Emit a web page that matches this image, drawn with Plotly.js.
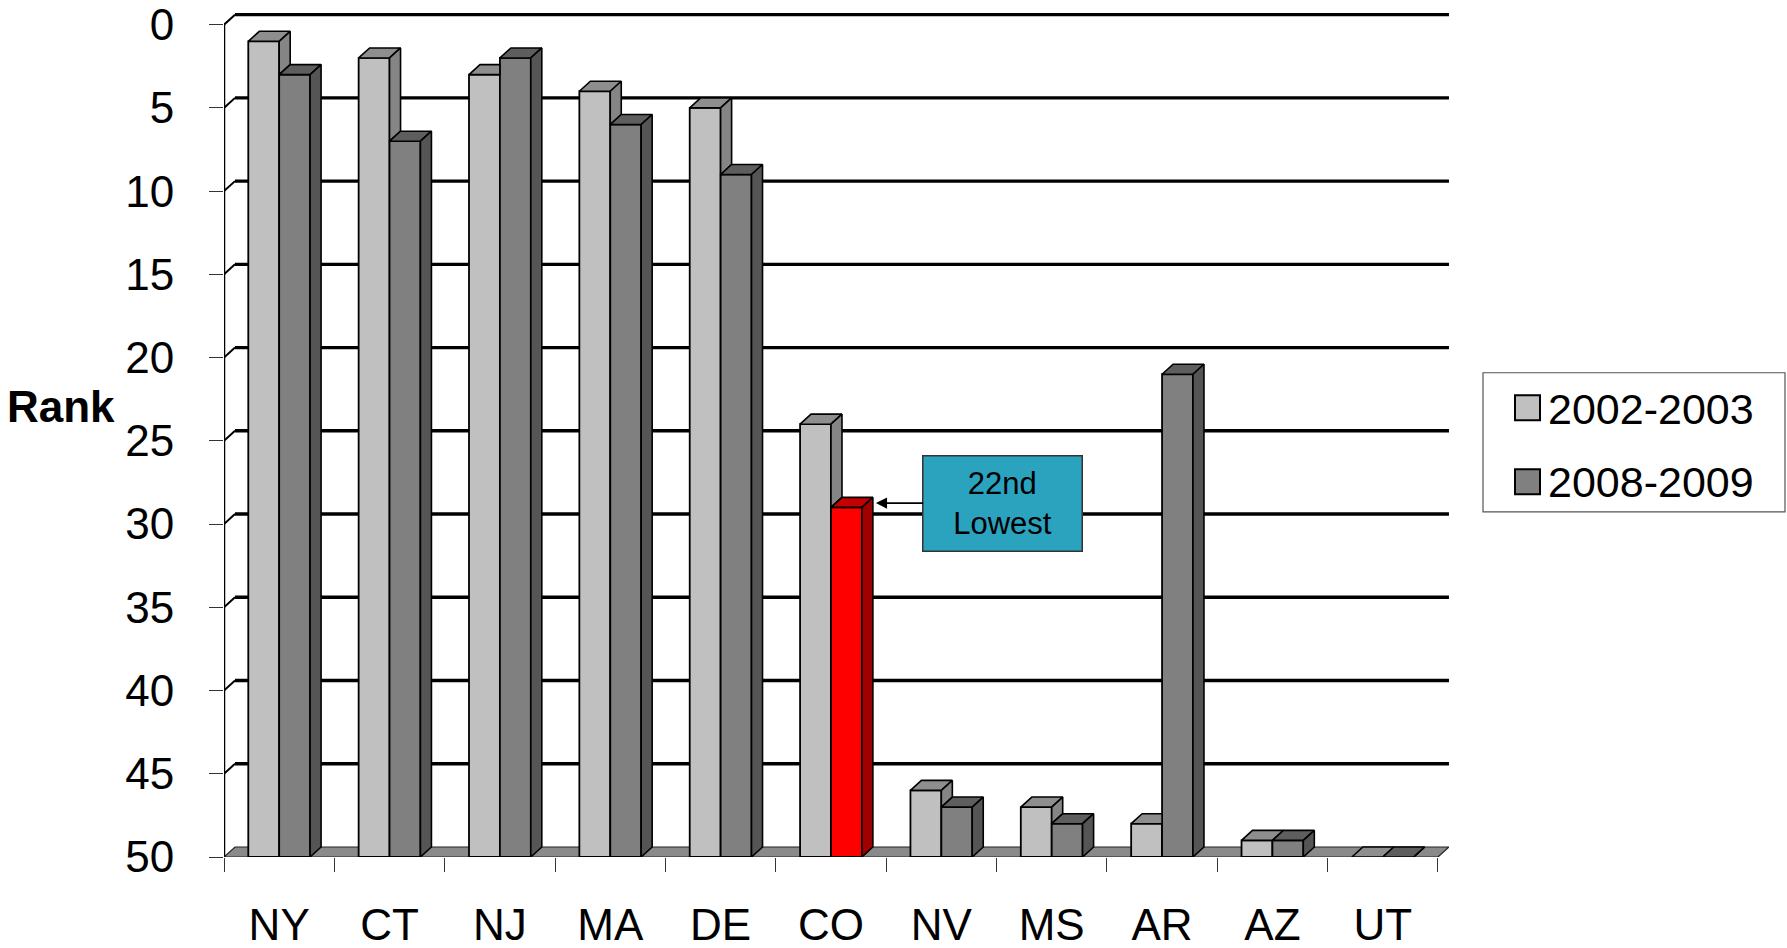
<!DOCTYPE html>
<html>
<head>
<meta charset="utf-8">
<script src="https://cdn.plot.ly/plotly-3.0.1.min.js"></script>
<style>html,body{margin:0;padding:0;background:#fff;}#chart{width:1787px;height:948px;}</style>
</head>
<body>
<div id="chart"></div>
<script>
// ---------- data ----------
const categories = ['NY', 'CT', 'NJ', 'MA', 'DE', 'CO', 'NV', 'MS', 'AR', 'AZ', 'UT'];
const rank2002 = [1, 2, 3, 4, 5, 24, 46, 47, 48, 49, 50];
const rank2008 = [3, 7, 2, 6, 9, 29, 47, 48, 21, 49, 50];
const seriesNames = ['2002-2003', '2008-2009'];
const highlightCategory = 'CO';
const yTickVals = [0, 5, 10, 15, 20, 25, 30, 35, 40, 45, 50];
const calloutText = '22nd<br>Lowest';
const axisTitle = 'Rank';

// ---------- geometry / style ----------
const W = 1787, H = 948;
const M = {l: 224, r: 338, t: 13.4, b: 91};
const XR = [-0.5, categories.length - 0.5 + 0.1];
const YR = [50, -0.7];
const BASE = 50;
const pxX = (W - M.l - M.r) / (XR[1] - XR[0]);
const pxY = (H - M.t - M.b) / (YR[0] - YR[1]);
const DX = 11 / pxX, DY = 10 / pxY;   // 3-D depth in data units
const BW = 0.28;                       // bar width (category units)
const FONT = 'Liberation Sans, Arial, sans-serif';
const C = {
  lightFront: '#c0c0c0', lightTop: '#8e8e8e', lightSide: '#858585',
  darkFront: '#808080', darkTop: '#5e5e5e', darkSide: '#555555',
  redFront: '#ff0000', redTop: '#c40000', redSide: '#a00000',
  floor: '#8a8a8a'
};
const idx = categories.map((_, i) => i);
const hi = categories.indexOf(highlightCategory);

// ---------- front faces (bars) ----------
const lightBar = {
  type: 'bar', name: seriesNames[0], x: idx, base: BASE,
  y: rank2002.map(v => v - BASE), offset: -BW, width: BW,
  marker: {color: C.lightFront, line: {color: '#000', width: 1.8}},
  showlegend: false, hoverinfo: 'skip'
};
const darkBar = {
  type: 'bar', name: seriesNames[1], x: idx, base: BASE,
  y: rank2008.map(v => v - BASE), offset: 0, width: BW,
  marker: {color: idx.map(i => i === hi ? C.redFront : C.darkFront), line: {color: '#000', width: 1.8}},
  showlegend: false, hoverinfo: 'skip'
};

// ---------- 3-D faces (polygons) ----------
function polyTrace(polys, fill) {
  const x = [], y = [];
  polys.forEach(p => {
    p.forEach(pt => { x.push(pt[0]); y.push(pt[1]); });
    x.push(p[0][0]); y.push(p[0][1]);
    x.push(null); y.push(null);
  });
  return {type: 'scatter', mode: 'lines', x, y, fill: 'toself', fillcolor: fill,
    line: {color: '#000', width: 1.6}, showlegend: false, hoverinfo: 'skip', connectgaps: false};
}
const lightTop = [], lightSide = [], darkTopG = [], darkTopR = [], darkSideG = [], darkSideR = [];
idx.forEach(i => {
  const rL = rank2002[i], rD = rank2008[i];
  const x0 = i - BW, x1 = i, x2 = i + BW;
  if (rD < rL) lightTop.push([[x0, rL], [x1, rL], [x1, rL - DY], [x0 + DX, rL - DY]]);
  else lightTop.push([[x0, rL], [x1, rL], [x1 + DX, rL - DY], [x0 + DX, rL - DY]]);
  if (rD > rL) lightSide.push([[x1, rL], [x1 + DX, rL - DY], [x1 + DX, rD - DY], [x1, rD]]);
  const top = [[x1, rD], [x2, rD], [x2 + DX, rD - DY], [x1 + DX, rD - DY]];
  const side = [[x2, rD], [x2 + DX, rD - DY], [x2 + DX, BASE - DY], [x2, BASE]];
  (i === hi ? darkTopR : darkTopG).push(top);
  (i === hi ? darkSideR : darkSideG).push(side);
});
const faceTraces = [
  polyTrace(lightTop, C.lightTop), polyTrace(lightSide, C.lightSide),
  polyTrace(darkTopG, C.darkTop), polyTrace(darkTopR, C.redTop),
  polyTrace(darkSideG, C.darkSide), polyTrace(darkSideR, C.redSide)
];

// ---------- legend entries ----------
const legendTraces = seriesNames.map((n, k) => ({
  type: 'bar', name: n, x: [null], y: [null], legendgroup: 'g' + k,
  marker: {color: 'rgba(0,0,0,0)', line: {width: 0}}, hoverinfo: 'skip'
}));

// ---------- walls, floor, gridlines ----------
const xL = -0.5, xR = categories.length - 0.5;
const shapes = [];
shapes.push({type: 'path', layer: 'below', xref: 'x', yref: 'y',
  path: `M${xL},${BASE} L${xR},${BASE} L${xR + DX},${BASE - DY} L${xL + DX},${BASE - DY} Z`,
  fillcolor: C.floor, line: {color: '#222', width: 1.2}});
yTickVals.filter(v => v < BASE).forEach(v => {
  shapes.push({type: 'line', layer: 'below', xref: 'x', yref: 'y',
    x0: xL + DX, x1: xR + DX, y0: v - DY, y1: v - DY, line: {color: '#000', width: 3.4}});
  shapes.push({type: 'line', layer: 'below', xref: 'x', yref: 'y',
    x0: xL, x1: xL + DX, y0: v, y1: v - DY, line: {color: '#000', width: 2}});
});
shapes.push({type: 'line', layer: 'above', xref: 'x', yref: 'y',
  x0: xL, x1: xL, y0: yTickVals[0], y1: BASE, line: {color: '#000', width: 2.5}});

// legend box and swatches (pixel -> paper)
const plotW = W - M.l - M.r, plotH = H - M.t - M.b;
const px2x = p => (p - M.l) / plotW, px2y = p => (H - M.b - p) / plotH;
shapes.push({type: 'rect', xref: 'paper', yref: 'paper', x0: px2x(1483), x1: px2x(1785),
  y0: px2y(512), y1: px2y(373), line: {color: '#555', width: 1.2}, fillcolor: 'rgba(0,0,0,0)'});
[[C.lightFront, 408], [C.darkFront, 482]].forEach(([col, cy]) => {
  shapes.push({type: 'rect', xref: 'paper', yref: 'paper', x0: px2x(1515), x1: px2x(1540),
    y0: px2y(cy + 12.5), y1: px2y(cy - 12.5), fillcolor: col, line: {color: '#000', width: 2}});
});

// ---------- annotations ----------
const annotations = [
  {xref: 'paper', yref: 'paper', x: px2x(61), y: px2y(407), xanchor: 'center', yanchor: 'middle',
   text: '<b>' + axisTitle + '</b>', showarrow: false, font: {family: FONT, size: 44, color: '#000'}},
  {xref: 'x', yref: 'y', x: hi + BW + DX + 3 / pxX, y: rank2008[hi] - 0.26,
   text: calloutText, showarrow: true, ax: 127, ay: 0, axref: 'pixel', ayref: 'pixel',
   arrowhead: 2, arrowsize: 1.4, arrowwidth: 1.6, arrowcolor: '#000', standoff: 0, startstandoff: 0,
   bgcolor: '#2ba3bf', bordercolor: '#333', borderwidth: 1.5, borderpad: 0, width: 158, height: 94,
   font: {family: FONT, size: 31, color: '#000'}, align: 'center', valign: 'middle'}
];

const layout = {
  width: W, height: H, margin: M, paper_bgcolor: '#fff', plot_bgcolor: 'rgba(0,0,0,0)',
  barmode: 'overlay', font: {family: FONT, color: '#000'},
  xaxis: {range: XR, tickmode: 'array', tickvals: idx, ticktext: categories, ticks: '',
    showgrid: false, zeroline: false, showline: false, tickfont: {size: 44, color: '#000'},
    ticklabelstandoff: 38, ticklabeloverflow: 'allow',
    minor: {tick0: 0.5, dtick: 1, ticks: 'outside', ticklen: 14, tickwidth: 1, tickcolor: '#333', showgrid: false}},
  yaxis: {range: YR, tickmode: 'array', tickvals: yTickVals, ticks: 'outside', ticklen: 14, tickwidth: 1,
    tickcolor: '#333', showgrid: false, zeroline: false, showline: false,
    tickfont: {size: 44, color: '#000'}, ticklabelstandoff: 26, ticklabeloverflow: 'allow'},
  showlegend: true,
  legend: {x: px2x(1483), y: px2y(373), xanchor: 'left', yanchor: 'top', bgcolor: 'rgba(0,0,0,0)',
    borderwidth: 0, font: {family: FONT, size: 43, color: '#000'}, itemwidth: 55, tracegroupgap: 14,
    traceorder: 'grouped'},
  shapes, annotations
};

Plotly.newPlot('chart', [lightBar, darkBar, ...faceTraces, ...legendTraces], layout,
  {displayModeBar: false, staticPlot: true});
</script>
</body>
</html>
